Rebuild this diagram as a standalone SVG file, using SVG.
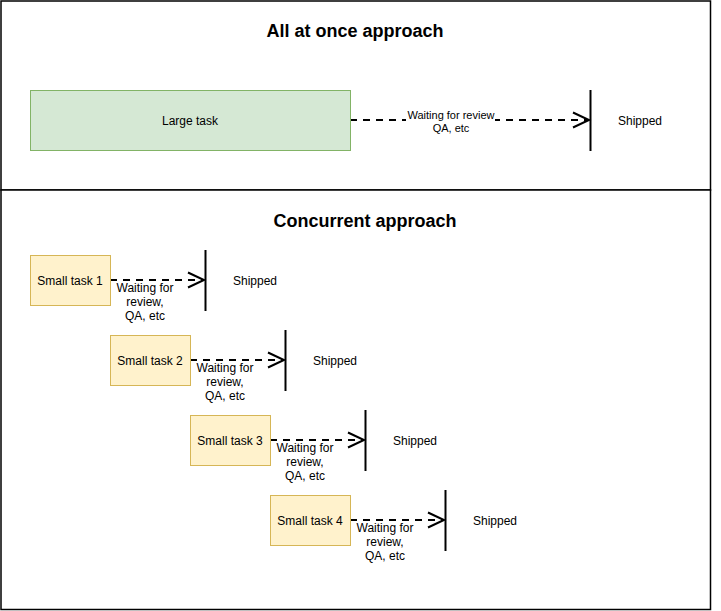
<svg xmlns="http://www.w3.org/2000/svg" width="721" height="611" viewBox="0 0 721 611">
<style>
.frame{fill:#ffffff;stroke:#000000;stroke-width:1.5}
.title{font-family:"Liberation Sans",Arial,sans-serif;font-size:18px;font-weight:bold;fill:#000;text-anchor:middle}
.lbl{font-family:"Liberation Sans",Arial,sans-serif;font-size:12px;fill:#000;text-anchor:middle}
.elbl{font-family:"Liberation Sans",Arial,sans-serif;font-size:11px;fill:#000;text-anchor:middle}
.green{fill:#d5e8d4;stroke:#82b366;stroke-width:1}
.yellow{fill:#fff2cc;stroke:#d6b656;stroke-width:1}
.dash{fill:none;stroke:#000;stroke-width:2;stroke-dasharray:7 6}
.head{fill:none;stroke:#000;stroke-width:2}
.bar{stroke:#000;stroke-width:2}
</style>
<rect width="721" height="611" fill="#ffffff"/>
<g id="frames">
<rect class="frame" x="1" y="1" width="709.5" height="189"/>
<rect class="frame" x="1" y="190" width="709.5" height="419.5"/>
</g>
<g id="titles">
<text class="title" x="355" y="37">All at once approach</text>
<text class="title" x="365" y="227">Concurrent approach</text>
</g>
<g id="connectors">
<path class="dash" d="M350,120 H587"/>
<path class="head" d="M573,112.5 L589,120 L573,127.5"/>
<path class="dash" d="M110,280 H202"/>
<path class="head" d="M188,272.5 L204,280 L188,287.5"/>
<path class="dash" d="M190,360 H282"/>
<path class="head" d="M268,352.5 L284,360 L268,367.5"/>
<path class="dash" d="M270,440 H362"/>
<path class="head" d="M348,432.5 L364,440 L348,447.5"/>
<path class="dash" d="M350,520 H442"/>
<path class="head" d="M428,512.5 L444,520 L428,527.5"/>
</g>
<g id="edge-labels">
<rect x="406" y="109" width="89" height="13" fill="#ffffff"/>
<text class="elbl" x="451" y="118.5">Waiting for review</text>
<text class="elbl" x="451" y="131.5">QA, etc</text>
<text class="lbl"><tspan x="145" y="292">Waiting for</tspan><tspan x="145" y="306">review,</tspan><tspan x="145" y="320">QA, etc</tspan></text>
<text class="lbl"><tspan x="225" y="372">Waiting for</tspan><tspan x="225" y="386">review,</tspan><tspan x="225" y="400">QA, etc</tspan></text>
<text class="lbl"><tspan x="305" y="452">Waiting for</tspan><tspan x="305" y="466">review,</tspan><tspan x="305" y="480">QA, etc</tspan></text>
<text class="lbl"><tspan x="385" y="532">Waiting for</tspan><tspan x="385" y="546">review,</tspan><tspan x="385" y="560">QA, etc</tspan></text>
</g>
<g id="large-task">
<rect class="green" x="30.5" y="90.5" width="320" height="60"/>
<text class="lbl" x="190" y="124.5">Large task</text>
</g>
<g id="shipped-top">
<line class="bar" x1="590.5" y1="90" x2="590.5" y2="151"/>
<text class="lbl" x="640" y="124.5">Shipped</text>
</g>
<g id="small-task-1">
<rect class="yellow" x="30.5" y="255.5" width="80" height="50"/>
<text class="lbl" x="70" y="284.5">Small task 1</text>
</g>
<g id="shipped-1">
<line class="bar" x1="205.5" y1="250" x2="205.5" y2="311"/>
<text class="lbl" x="255" y="284.5">Shipped</text>
</g>
<g id="small-task-2">
<rect class="yellow" x="110.5" y="335.5" width="80" height="50"/>
<text class="lbl" x="150" y="364.5">Small task 2</text>
</g>
<g id="shipped-2">
<line class="bar" x1="285.5" y1="330" x2="285.5" y2="391"/>
<text class="lbl" x="335" y="364.5">Shipped</text>
</g>
<g id="small-task-3">
<rect class="yellow" x="190.5" y="415.5" width="80" height="50"/>
<text class="lbl" x="230" y="444.5">Small task 3</text>
</g>
<g id="shipped-3">
<line class="bar" x1="365.5" y1="410" x2="365.5" y2="471"/>
<text class="lbl" x="415" y="444.5">Shipped</text>
</g>
<g id="small-task-4">
<rect class="yellow" x="270.5" y="495.5" width="80" height="50"/>
<text class="lbl" x="310" y="524.5">Small task 4</text>
</g>
<g id="shipped-4">
<line class="bar" x1="445.5" y1="490" x2="445.5" y2="551"/>
<text class="lbl" x="495" y="524.5">Shipped</text>
</g>
</svg>
